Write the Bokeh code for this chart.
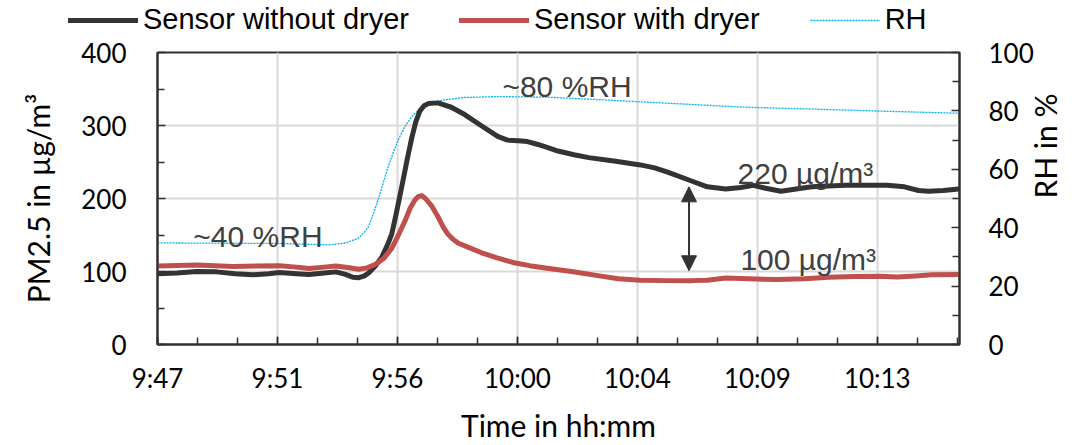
import math
from bokeh.plotting import figure
from bokeh.layouts import column
from bokeh.models import (Range1d, LinearAxis, FixedTicker, Legend, LegendItem,
                          Label, Arrow, NormalHead)
from bokeh.embed import file_html
from bokeh.resources import INLINE

# ---- data (time in minutes after 9:47:30) ----
tick_labels = ["9:47", "9:51", "9:56", "10:00", "10:04", "10:09", "10:13"]
tick_step = 4.32  # minutes between labelled ticks
x_max = 28.88

t_no_dryer = [0.00, 0.7, 1.42, 2.13, 2.8, 3.43, 4.0, 4.39, 5.0, 5.46, 6.0, 6.42, 6.77,
              7.05, 7.25, 7.45, 7.60, 7.85, 8.08, 8.3, 8.44, 8.6, 8.79, 9.0, 9.15, 9.3,
              9.45, 9.6, 9.75, 10.10, 10.58, 11.06, 11.65, 12.25, 12.6, 13.0, 13.32, 13.7,
              14.03, 14.42, 15.0, 15.53, 16.5, 17.39, 17.9, 18.37, 19.23, 19.8, 20.46,
              21.0, 21.46, 21.9, 22.45, 23.0, 23.56, 24.78, 26.28, 26.9, 27.4, 27.76,
              28.3, 28.85]
pm_no_dryer = [97, 98, 100, 99.5, 97, 95.5, 97, 98.5, 97, 96, 98, 99.5, 96,
               92, 91.5, 94, 98, 108, 120, 138, 152, 180, 215, 255, 282, 305,
               320, 327, 330, 331, 325, 315, 300, 285, 280, 279, 278, 274,
               270, 265, 260, 256, 251, 246, 242, 236, 224, 216, 213,
               215, 218, 214, 210, 213, 216, 218, 218, 216, 211, 210,
               211, 213]

t_dryer = [0, 1.42, 2.73, 4.39, 5.0, 5.46, 6.0, 6.42, 6.9, 7.25, 7.55, 7.85, 8.15, 8.44,
           8.7, 8.92, 9.1, 9.27, 9.40, 9.51, 9.65, 9.87, 10.1, 10.3, 10.46, 10.65, 10.82,
           11.2, 11.65, 12.2, 12.84, 13.4, 14.03, 14.91, 15.91, 16.6, 17.39, 18.3, 19.23,
           19.8, 20.46, 21.3, 22.31, 23.3, 24.17, 25.1, 26.03, 26.63, 27.3, 27.88, 28.85]
pm_dryer = [107.5, 109, 107, 108, 106, 104, 106, 107.5, 105, 103, 105, 110, 118, 132,
            152, 170, 187, 198, 203, 204, 200, 190, 175, 160, 151, 144, 139,
            133, 126, 119, 112, 108, 104.5, 100, 94, 90, 88, 87.5, 87.5,
            88, 91, 90, 89, 90, 92, 93, 93.5, 92.5, 94, 95.5, 96]

t_rh = [0, 2, 4.39, 5.5, 6.17, 6.8, 7.25, 7.45, 7.60, 7.78, 7.96, 8.15, 8.32, 8.5, 8.68,
        8.9, 9.15, 9.4, 9.63, 10.0, 10.34, 11.06, 12.25, 14.03, 16.0, 18.0, 21.10, 24.0,
        26.5, 28.85]
rh = [34.8, 34.7, 34.6, 34.3, 34.1, 34.8, 36.5, 38.5, 40.4, 45, 50, 56, 61.3, 66, 70.3,
      74.5, 78, 80.3, 81.5, 83, 83.8, 84.6, 84.9, 84.7, 83.8, 82.8, 81.3, 80.5,
      79.8, 79.2]

series_names = ["Sensor without dryer", "Sensor with dryer", "RH"]
black, red, cyan = "#333333", "#c0504d", "#00b0f0"

# ---- main figure ----
LEG_H = 36
p = figure(width=1083, height=445 - LEG_H, output_backend="svg", toolbar_location=None,
           x_range=Range1d(0, x_max), y_range=Range1d(0, 400),
           min_border_left=157, min_border_right=117, min_border_top=52 - LEG_H,
           min_border_bottom=97)
p.background_fill_color = "white"
p.border_fill_color = "white"
p.outline_line_color = "#303030"
p.outline_line_width = 2

major = [i * tick_step for i in range(len(tick_labels))]
minor = [i * tick_step / 3 for i in range(0, 3 * len(tick_labels) + 1) if i * tick_step / 3 <= x_max]

ax_col = "#303030"
p.xaxis.ticker = FixedTicker(ticks=major, minor_ticks=minor)
p.xaxis.major_label_overrides = {m: l for m, l in zip(major, tick_labels)}
p.yaxis.ticker = FixedTicker(ticks=[0, 100, 200, 300, 400], minor_ticks=[50, 150, 250, 350])

rax = LinearAxis(y_range_name="rh",
                 ticker=FixedTicker(ticks=[0, 20, 40, 60, 80, 100],
                                    minor_ticks=[10, 30, 50, 70, 90]))
p.extra_y_ranges = {"rh": Range1d(0, 100)}
p.add_layout(rax, "right")

for ax in [p.xaxis[0], p.yaxis[0], rax]:
    ax.axis_line_color = ax_col
    ax.axis_line_width = 2
    ax.major_tick_line_color = ax_col
    ax.minor_tick_line_color = ax_col
    ax.major_tick_line_width = 1.5
    ax.minor_tick_line_width = 1.5
    ax.major_tick_in = 8
    ax.major_tick_out = 0
    ax.minor_tick_in = 7
    ax.minor_tick_out = 0
    ax.major_label_text_font = "Lato"
    ax.major_label_text_font_size = "26px"
    ax.major_label_text_color = "black"
    ax.axis_label_text_font = "Lato"
    ax.axis_label_text_font_size = "30px"
    ax.axis_label_text_font_style = "normal"
    ax.axis_label_text_color = "black"

p.xaxis.axis_label = "Time in hh:mm"
p.xaxis.major_label_standoff = 17
p.xaxis.axis_label_standoff = 10
p.yaxis.axis_label = "PM2.5 in µg/m³"
p.yaxis.major_label_standoff = 31
p.yaxis.axis_label_standoff = 22
rax.axis_label = "RH in %"
rax.major_label_standoff = 29
rax.axis_label_standoff = 8
rax.axis_label_orientation = math.pi / 2

p.xgrid.grid_line_color = "#d9d9d9"
p.xgrid.grid_line_width = 2
p.ygrid.grid_line_color = "#d9d9d9"
p.ygrid.grid_line_width = 2

# ---- series ----
style_rh = dict(line_color=cyan, line_width=1.3, line_dash="2 1")
style_no = dict(line_color=black, line_width=5, line_join="round", line_cap="round")
style_dr = dict(line_color=red, line_width=5, line_join="round", line_cap="round")
p.line(t_rh, rh, y_range_name="rh", **style_rh)
p.line(t_no_dryer, pm_no_dryer, **style_no)
p.line(t_dryer, pm_dryer, **style_dr)

# ---- annotations ----
ann_font = "Liberation Sans"
for txt, x, y in [("~40 %RH", 1.29, 148.6), ("~80 %RH", 12.42, 353),
                  ("220 µg/m³", 20.89, 233.8), ("100 µg/m³", 20.99, 116.6)]:
    p.add_layout(Label(x=x, y=y, text=txt, text_font=ann_font, text_font_size="30px",
                       text_color="#404040", text_baseline="alphabetic"))

head = dict(size=15, fill_color=black, line_color=black)
p.add_layout(Arrow(start=NormalHead(**head), end=NormalHead(**head),
                   x_start=19.14, y_start=101, x_end=19.14, y_end=216,
                   line_color=black, line_width=2))

# ---- legend strip (separate figure on top; its view range hides the series) ----
pl = figure(width=1083, height=LEG_H, output_backend="svg", toolbar_location=None,
            x_axis_type=None, y_axis_type=None, x_range=Range1d(0, 1), y_range=Range1d(-2, -1),
            min_border=0, min_border_left=0, min_border_right=0, min_border_top=0,
            min_border_bottom=0)
pl.frame_align = False
pl.outline_line_color = None
pl.grid.visible = False
l_no = pl.line(t_no_dryer, pm_no_dryer, **style_no)
l_dr = pl.line(t_dryer, pm_dryer, **style_dr)
l_rh = pl.line(t_rh, rh, **style_rh)
legend = Legend(items=[LegendItem(label=n, renderers=[r])
                       for n, r in zip(series_names, [l_no, l_dr, l_rh])],
                orientation="horizontal", location=(68, 0),
                glyph_width=70, glyph_height=20, label_standoff=5, spacing=50,
                padding=0, margin=0, border_line_alpha=0, background_fill_alpha=0,
                label_text_font="Liberation Sans", label_text_font_size="29px",
                label_text_color="black")
pl.add_layout(legend, "center")

layout = column(pl, p, spacing=0)
open("out.html", "w").write(file_html(layout, INLINE))
